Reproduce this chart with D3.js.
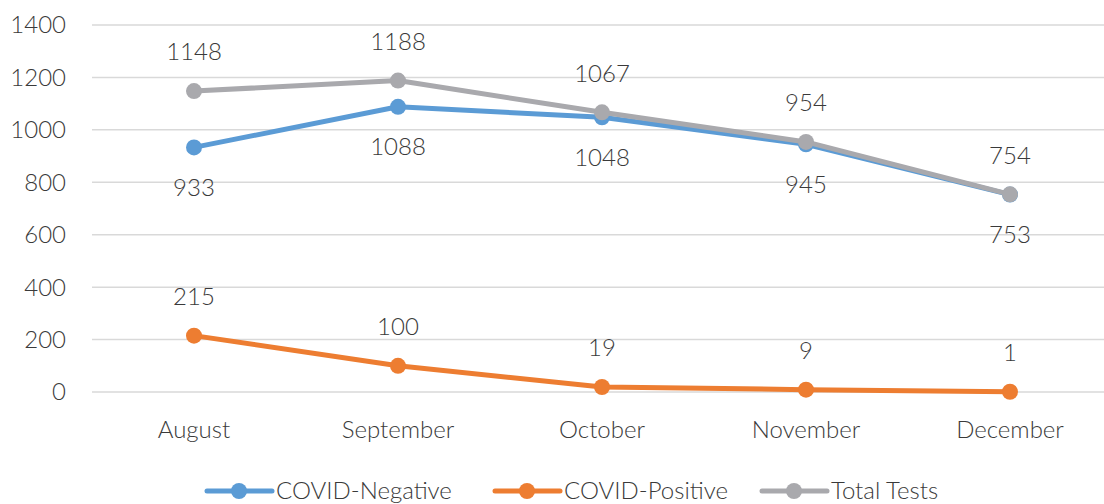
<!DOCTYPE html>
<html>
<head>
<meta charset="utf-8">
<script src="https://cdn.jsdelivr.net/npm/d3@7"></script>
<style>
	body { margin: 0; background: #fff; }
	svg text { font-family: "Lato", "Open Sans", sans-serif; font-weight: 300; fill: #3a3a3a; }
</style>
</head>
<body>
<div id="chart"></div>
<script>
// chart data
const months = ["August", "September", "October", "November", "December"];
const negative = [933, 1088, 1048, 945, 753];
const positive = [215, 100, 19, 9, 1];
const total = [1148, 1188, 1067, 954, 754];
const yTicks = [0, 200, 400, 600, 800, 1000, 1200, 1400];

const seriesNames = ["COVID-Negative", "COVID-Positive", "Total Tests"];
const seriesColors = ["#5B9BD5", "#ED7D31", "#A9A9AD"];
const labelPos = ["below", "above", "above"];

const W = 1104, H = 504;
const fontSize = "24px";
const svg = d3.select("#chart").append("svg")
	.attr("width", W).attr("height", H);

const x = d3.scaleBand().domain(months).range([92, 1112]);
const y = d3.scaleLinear().domain([0, 1400]).range([392, 25]);
const cx = d => x(d) + x.bandwidth() / 2;

// gridlines
svg.append("g").selectAll("line")
	.data(yTicks).join("line")
	.attr("x1", 92).attr("x2", W)
	.attr("y1", d => y(d)).attr("y2", d => y(d))
	.attr("stroke", "#d9d9d9").attr("stroke-width", 1.5);

// y labels
svg.append("g").selectAll("text")
	.data(yTicks).join("text")
	.attr("x", 66).attr("y", d => y(d))
	.attr("dy", "0.35em")
	.attr("text-anchor", "end")
	.style("font-size", fontSize)
	.text(d => d);

// x labels
svg.append("g").selectAll("text")
	.data(months).join("text")
	.attr("x", d => cx(d)).attr("y", 430)
	.attr("dy", "0.35em")
	.attr("text-anchor", "middle")
	.style("font-size", fontSize)
	.text(d => d);

const series = [negative, positive, total];
const line = d3.line().x((d, i) => cx(months[i])).y(d => y(d));

series.forEach((vals, s) => {
	const g = svg.append("g");
	g.append("path")
		.attr("d", line(vals))
		.attr("fill", "none")
		.attr("stroke", seriesColors[s])
		.attr("stroke-width", 5)
		.attr("stroke-linejoin", "round");
	g.selectAll("circle")
		.data(vals).join("circle")
		.attr("cx", (d, i) => cx(months[i]))
		.attr("cy", d => y(d))
		.attr("r", 8)
		.attr("fill", seriesColors[s]);
});

// data labels
series.forEach((vals, s) => {
	svg.append("g").selectAll("text")
		.data(vals).join("text")
		.attr("x", (d, i) => cx(months[i]))
		.attr("y", d => y(d) + (labelPos[s] == "above" ? -39 : 40))
		.attr("dy", "0.35em")
		.attr("text-anchor", "middle")
		.style("font-size", fontSize)
		.text(d => d);
});

// legend
const legendX = [207, 495, 762];
const leg = svg.append("g");
seriesNames.forEach((name, s) => {
	const lg = leg.append("g").attr("transform", `translate(${legendX[s]}, 491)`);
	lg.append("line")
		.attr("x1", 0).attr("x2", 65)
		.attr("stroke", seriesColors[s]).attr("stroke-width", 5)
		.attr("stroke-linecap", "round");
	lg.append("circle").attr("cx", 32).attr("r", 8).attr("fill", seriesColors[s]);
	lg.append("text")
		.attr("x", 69).attr("dy", "0.35em")
		.style("font-size", fontSize)
		.text(name);
});
</script>
</body>
</html>
